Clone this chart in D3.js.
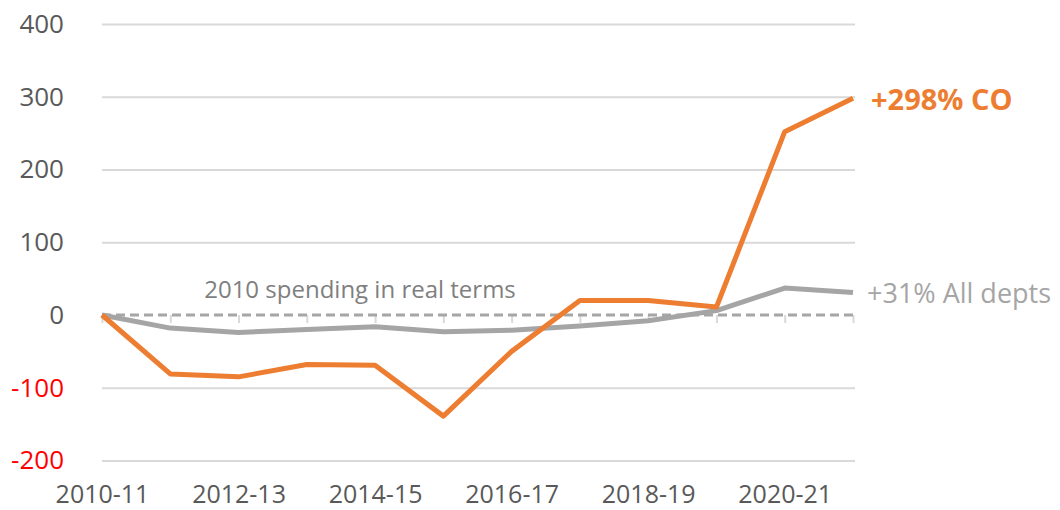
<!DOCTYPE html>
<html><head><meta charset="utf-8">
<script src="https://cdn.jsdelivr.net/npm/d3@7"></script>
<style>body{margin:0;background:#fff}svg{display:block}</style>
</head><body><svg id="c" width="1060" height="510"></svg>
<script>
const years = ["2010-11","2011-12","2012-13","2013-14","2014-15","2015-16","2016-17","2017-18","2018-19","2019-20","2020-21","2021-22"];
const coChange = [0,-81,-85,-68,-69,-139,-50,20,20,11,252,298];
const allDeptsChange = [0,-18,-24,-20,-16,-23,-21,-15,-8,6,37,31];
const baselineValues = [0,0,0,0,0,0,0,0,0,0,0,0];
const yTickValues = [-200,-100,0,100,200,300,400];
const xTickLabels = ["2010-11","2012-13","2014-15","2016-17","2018-19","2020-21"];
const coLabel = "+298% CO";
const allLabel = "+31% All depts";
const baselineLabel = "2010 spending in real terms";

const FONT = "'Open Sans', sans-serif";
const svg = d3.select("#c");
const x = d3.scalePoint().domain(years).range([102, 853]);
const y = d3.scaleLinear().domain([-200, 400]).range([460.5, 24]);

// Y axis with gridlines
const ya = svg.append("g").attr("transform", "translate(102,0)")
  .call(d3.axisLeft(y).tickValues(yTickValues).tickSize(-753).tickPadding(38).tickFormat(d => String(d)));
ya.select(".domain").remove();
ya.selectAll(".tick line").attr("stroke", "#D9D9D9").attr("stroke-width", 2)
  .attr("display", d => d === 0 ? "none" : null);
ya.selectAll(".tick text").attr("font-family", FONT).attr("font-size", 26)
  .attr("fill", d => d < 0 ? "#FF0000" : "#595959");

// Category tick marks on zero line
const za = svg.append("g").attr("transform", `translate(0,${y(0)})`)
  .call(d3.axisBottom(x).tickSize(8).tickFormat(""));
za.select(".domain").remove();
za.selectAll(".tick line").attr("stroke", "#D9D9D9").attr("stroke-width", 2);

// X axis labels
const xa = svg.append("g").attr("transform", `translate(0,${y(-200)})`)
  .call(d3.axisBottom(x).tickValues(xTickLabels).tickSize(0).tickPadding(25));
xa.select(".domain").remove();
xa.selectAll(".tick text").attr("font-family", FONT).attr("font-size", 25).attr("fill", "#595959");

const line = d3.line().x((d, i) => x(years[i])).y(d => y(d));

// Dashed baseline
svg.append("path").datum(baselineValues).attr("d", line)
  .attr("fill", "none").attr("stroke", "#A6A6A6").attr("stroke-width", 3).attr("stroke-dasharray", "9,5");

svg.append("path").datum(allDeptsChange).attr("d", line)
  .attr("fill", "none").attr("stroke", "#A5A5A5").attr("stroke-width", 5).attr("stroke-linejoin", "round");
svg.append("path").datum(coChange).attr("d", line)
  .attr("fill", "none").attr("stroke", "#ED7D31").attr("stroke-width", 5).attr("stroke-linejoin", "round");

// Labels
svg.append("text").attr("x", 360).attr("y", y(0) - 17).attr("text-anchor", "middle")
  .attr("font-family", FONT).attr("font-size", 24).attr("fill", "#7F7F7F").text(baselineLabel);
svg.append("text").attr("x", 871).attr("y", y(coChange[11]) + 12)
  .attr("font-family", FONT).attr("font-size", 29).attr("font-weight", "bold").attr("fill", "#ED7D31").text(coLabel);
svg.append("text").attr("x", 867).attr("y", y(allDeptsChange[11]) + 11)
  .attr("font-family", FONT).attr("font-size", 27).attr("fill", "#A5A5A5").text(allLabel);
</script></body></html>
